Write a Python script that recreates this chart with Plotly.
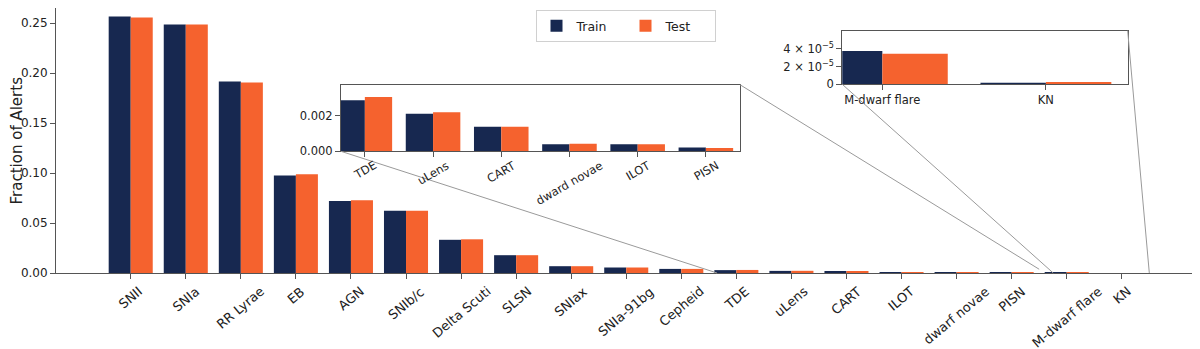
import plotly.graph_objects as go

# class fractions
classes = ["SNII", "SNIa", "RR Lyrae", "EB", "AGN", "SNIb/c", "Delta Scuti", "SLSN", "SNIax",
           "SNIa-91bg", "Cepheid", "TDE", "uLens", "CART", "ILOT", "dwarf novae", "PISN",
           "M-dwarf flare", "KN"]
train = [0.2564, 0.2484, 0.1914, 0.0974, 0.0720, 0.0622, 0.0332, 0.0178, 0.0068,
         0.0055, 0.0041, 0.00287, 0.00211, 0.00138, 0.00039, 0.00039, 0.00022,
         0.0000376, 0.0000011]
test = [0.2554, 0.2484, 0.1904, 0.0987, 0.0727, 0.0622, 0.0337, 0.0178, 0.0068,
        0.0055, 0.0041, 0.00305, 0.00219, 0.00138, 0.00039, 0.00043, 0.00019,
        0.0000346, 0.0000026]

# inset contents (first inset labels as printed in the source figure)
inset1_keys = ["TDE", "uLens", "CART", "dwarf novae", "ILOT", "PISN"]
inset1_labels = ["TDE", "uLens", "CART", "dward novae", "ILOT", "PISN"]
inset2_keys = ["M-dwarf flare", "KN"]

TRAIN_C = "#172850"
TEST_C = "#F5622E"
FONT = "DejaVu Sans"

main_xr = [-1.357, 19.33]
main_yr = [0, 0.265]
in1_xr = [-0.35, 5.5]
in1_yr = [0, 0.00374]
in2_xr = [-0.245, 1.5]
in2_yr = [0, 0.0000606]
in1_dom = ([0.2502, 0.6005], [0.4592, 0.7106])
in2_dom = ([0.6903, 0.9409], [0.7121, 0.9143])

def pick(keys, vals):
    return [vals[classes.index(k)] for k in keys]

fig = go.Figure()

def add_bars(xs, tr, te, xa, ya, legend):
    fig.add_trace(go.Bar(x=xs, y=tr, name="Train", marker_color=TRAIN_C, marker_line_width=0,
                         width=0.4, offset=-0.4, xaxis=xa, yaxis=ya, showlegend=legend))
    fig.add_trace(go.Bar(x=xs, y=te, name="Test", marker_color=TEST_C, marker_line_width=0,
                         width=0.4, offset=0, xaxis=xa, yaxis=ya, showlegend=legend))

add_bars(list(range(len(classes))), train, test, "x", "y", True)
add_bars(list(range(len(inset1_keys))), pick(inset1_keys, train), pick(inset1_keys, test), "x2", "y2", False)
add_bars(list(range(len(inset2_keys))), pick(inset2_keys, train), pick(inset2_keys, test), "x3", "y3", False)

def ax(size):
    return dict(showline=True, linecolor="#555", linewidth=1, mirror=True, ticks="outside",
                ticklen=5, tickcolor="#555", showgrid=False, zeroline=False,
                tickfont=dict(family=FONT, size=size, color="#222"))

# page body has an 8px margin, so the figure is sized to fit the window
fig.update_layout(
    width=1192, height=341,
    margin=dict(l=48, r=5, t=0, b=76),
    plot_bgcolor="white", paper_bgcolor="white",
    font=dict(family=FONT, color="#222"),
    barmode="overlay",
    xaxis=dict(**ax(13), range=main_xr, tickvals=list(range(len(classes))),
               showticklabels=False),
    yaxis=dict(**ax(12), range=main_yr, tickvals=[0, 0.05, 0.10, 0.15, 0.20, 0.25],
               tickformat=".2f"),
    xaxis2=dict(**ax(11.5), domain=in1_dom[0], anchor="y2", range=in1_xr,
                tickvals=list(range(len(inset1_keys))), showticklabels=False),
    yaxis2=dict(**ax(11.5), domain=in1_dom[1], anchor="x2", range=in1_yr,
                tickvals=[0, 0.002], ticktext=["0.000", "0.002"]),
    xaxis3=dict(**ax(11.5), domain=in2_dom[0], anchor="y3", range=in2_xr,
                tickvals=[0, 1], ticktext=inset2_keys, tickangle=0),
    yaxis3=dict(**ax(11.5), domain=in2_dom[1], anchor="x3", range=in2_yr,
                tickvals=[0, 0.00002, 0.00004],
                ticktext=["0", "2 × 10<sup>−5</sup>", "4 × 10<sup>−5</sup>"]),
    legend=dict(orientation="h", x=0.5, xanchor="center", y=0.992, yanchor="top",
                bordercolor="#d0d0d0", borderwidth=1, font=dict(family=FONT, size=12.5),
                bgcolor="rgba(255,255,255,0.8)", entrywidth=44),
)

fig.add_annotation(text="Fraction of Alerts", xref="paper", yref="paper", x=-0.0343, y=0.5,
                   xanchor="center", yanchor="middle", textangle=-90, showarrow=False,
                   font=dict(family=FONT, size=15, color="#222"))

# rotated category labels centred under their ticks (matplotlib style)
for i, name in enumerate(classes):
    fig.add_annotation(text=name, x=i, xref="x", y=0, yref="paper", xanchor="center",
                       yanchor="top", yshift=-8, textangle=-40, showarrow=False,
                       font=dict(family=FONT, size=13, color="#222"))
for i, name in enumerate(inset1_labels):
    fig.add_annotation(text=name, x=i, xref="x2", y=in1_dom[1][0], yref="paper", xanchor="center",
                       yanchor="top", yshift=-4, textangle=-30, showarrow=False,
                       font=dict(family=FONT, size=11.5, color="#222"))

# zoom connector lines, in paper coordinates
def main_to_paper(x, y):
    return ((x - main_xr[0]) / (main_xr[1] - main_xr[0]),
            (y - main_yr[0]) / (main_yr[1] - main_yr[0]))

def connect(inset_xr, inset_yr, dom, offset_idx):
    # region in main axes covered by the inset
    bl = main_to_paper(inset_xr[0] + offset_idx, inset_yr[0])
    tr = main_to_paper(inset_xr[1] + offset_idx, inset_yr[1])
    for (px, py), (qx, qy) in [((dom[0][0], dom[1][0]), bl), ((dom[0][1], dom[1][1]), tr)]:
        fig.add_shape(type="line", xref="paper", yref="paper", x0=px, y0=py, x1=qx, y1=qy,
                      line=dict(color="#9a9a9a", width=1))

connect(in1_xr, in1_yr, in1_dom, classes.index(inset1_keys[0]))
connect(in2_xr, in2_yr, in2_dom, classes.index(inset2_keys[0]))

fig.write_html("out.html")
